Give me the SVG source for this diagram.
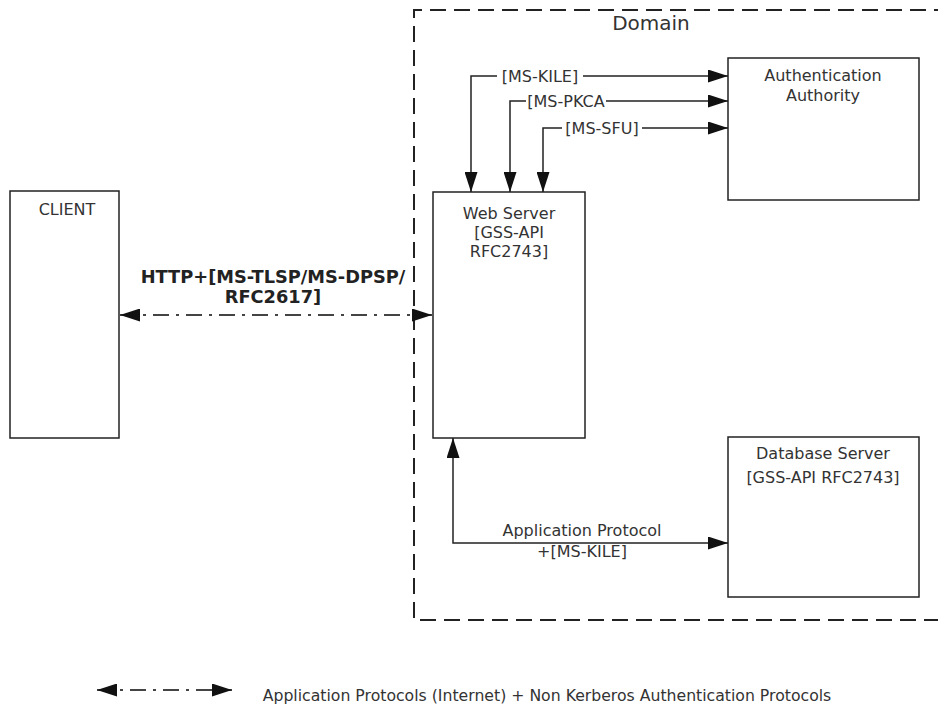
<svg xmlns="http://www.w3.org/2000/svg" width="938" height="708" viewBox="0 0 938 708">
  <style>
    .box { fill: #ffffff; stroke: #222222; stroke-width: 1.5; }
    .lbl { font-family: "DejaVu Sans", Verdana, sans-serif; font-size: 16px; fill: #333333; text-anchor: middle; }
    .bold { font-family: "DejaVu Sans", Verdana, sans-serif; font-size: 17.8px; font-weight: bold; fill: #222222; text-anchor: middle; }
    .wire { fill: none; stroke: #222222; stroke-width: 1.5; }
    .dashdot { fill: none; stroke: #444444; stroke-width: 2; stroke-dasharray: 16 7 3 7; }
    .domain { fill: none; stroke: #222222; stroke-width: 2; stroke-dasharray: 16 8; }
    .bg { fill: #ffffff; }
  </style>
  <defs>
    <marker id="head" viewBox="0 0 20 13" refX="20" refY="6.5" markerWidth="20" markerHeight="13" markerUnits="userSpaceOnUse" orient="auto-start-reverse">
      <path d="M0,0 L20,6.5 L0,13 Z" fill="#111111"/>
    </marker>
  </defs>

  <rect width="938" height="708" fill="#ffffff"/>

  <!-- Domain boundary (open on the right) -->
  <g id="domain">
    <path class="domain" d="M950,10 L414,10 L414,620 L950,620"/>
    <text class="lbl" x="651" y="30" style="font-size:20px">Domain</text>
  </g>

  <!-- Nodes -->
  <g id="client">
    <rect class="box" x="10" y="191" width="109" height="247"/>
    <text class="lbl" x="67" y="215">CLIENT</text>
  </g>

  <g id="web-server">
    <rect class="box" x="433" y="192" width="152" height="246"/>
    <text class="lbl" x="509" y="219">Web Server</text>
    <text class="lbl" x="509" y="238">[GSS-API</text>
    <text class="lbl" x="509" y="257">RFC2743]</text>
  </g>

  <g id="authentication-authority">
    <rect class="box" x="728" y="58" width="191" height="142"/>
    <text class="lbl" x="823" y="81">Authentication</text>
    <text class="lbl" x="823" y="101">Authority</text>
  </g>

  <g id="database-server">
    <rect class="box" x="728" y="437" width="191" height="160"/>
    <text class="lbl" x="823" y="459">Database Server</text>
    <text class="lbl" x="823" y="483">[GSS-API RFC2743]</text>
  </g>

  <!-- Connectors -->
  <g id="connectors">
    <!-- Web Server to Authentication Authority -->
    <path class="wire" d="M728,76 L471,76 L471,192" marker-start="url(#head)" marker-end="url(#head)"/>
    <path class="wire" d="M728,101 L510,101 L510,192" marker-start="url(#head)" marker-end="url(#head)"/>
    <path class="wire" d="M728,128 L543,128 L543,192" marker-start="url(#head)" marker-end="url(#head)"/>
    <rect class="bg" x="497" y="67" width="86" height="18"/>
    <text class="lbl" x="540" y="82">[MS-KILE]</text>
    <rect class="bg" x="526" y="92" width="80" height="18"/>
    <text class="lbl" x="566" y="107">[MS-PKCA</text>
    <rect class="bg" x="562" y="119" width="80" height="18"/>
    <text class="lbl" x="602" y="134">[MS-SFU]</text>

    <!-- Client to Web Server -->
    <path class="dashdot" d="M120,315 L432,315" marker-start="url(#head)" marker-end="url(#head)"/>
    <text class="bold" x="273" y="283">HTTP+[MS-TLSP/MS-DPSP/</text>
    <text class="bold" x="273" y="303">RFC2617]</text>

    <!-- Web Server to Database Server -->
    <path class="wire" d="M728,543 L453,543 L453,438" marker-start="url(#head)" marker-end="url(#head)"/>
    <rect class="bg" x="499" y="522" width="166" height="18"/>
    <text class="lbl" x="582" y="536">Application Protocol</text>
    <text class="lbl" x="582" y="557">+[MS-KILE]</text>
  </g>

  <!-- Legend -->
  <g id="legend">
    <path class="dashdot" d="M97,690 L232,690" marker-start="url(#head)" marker-end="url(#head)"/>
    <text class="lbl" x="547" y="701" style="font-size:15.7px">Application Protocols (Internet) + Non Kerberos Authentication Protocols</text>
  </g>
</svg>
